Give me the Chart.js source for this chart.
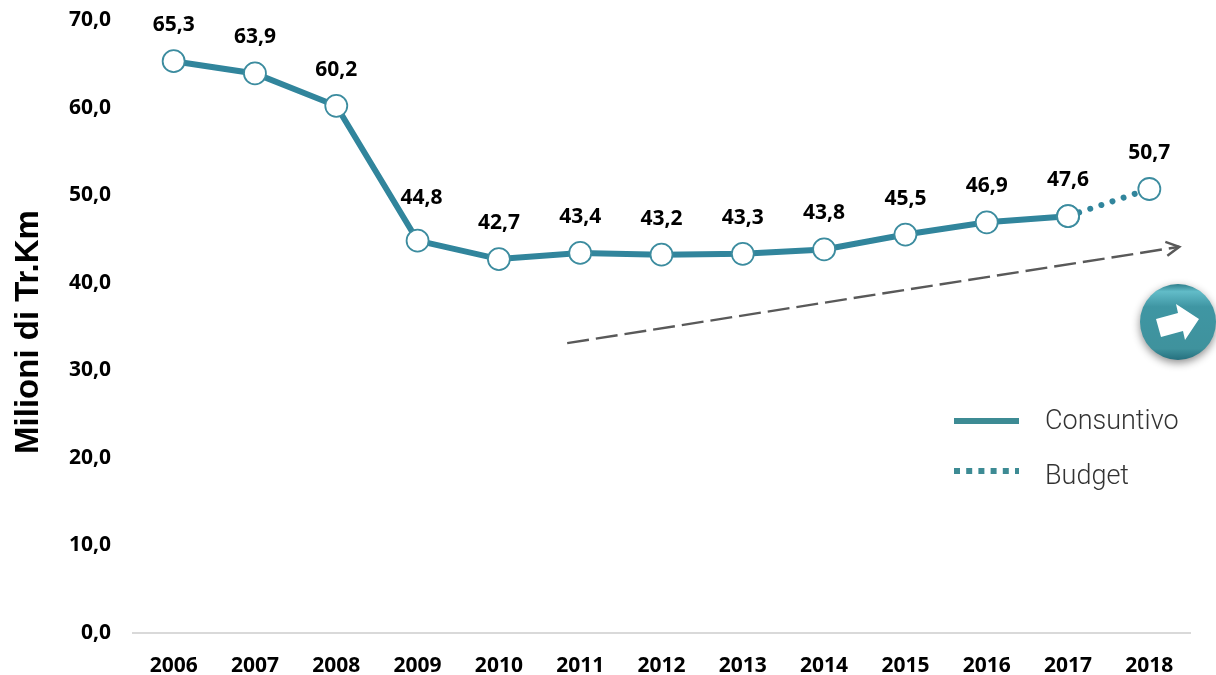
<!DOCTYPE html>
<html>
<head>
<meta charset="utf-8">
<script src="https://cdn.jsdelivr.net/npm/chart.js@4"></script>
<style>
html, body { margin: 0; padding: 0; background: #fff; }
#wrap { position: relative; width: 1216px; height: 675px; }
#chart { display: block; }
</style>
</head>
<body>
<div id="wrap"><canvas id="chart" width="1216" height="675"></canvas></div>
<script>
var years = ['2006','2007','2008','2009','2010','2011','2012','2013','2014','2015','2016','2017','2018'];
var consuntivo = [65.3,63.9,60.2,44.8,42.7,43.4,43.2,43.3,43.8,45.5,46.9,47.6,null];
var budget = [null,null,null,null,null,null,null,null,null,null,null,47.6,50.7];
var allValues = [65.3,63.9,60.2,44.8,42.7,43.4,43.2,43.3,43.8,45.5,46.9,47.6,50.7];
var trendFrom = 33.1;
var trendTo = 44.1;
var teal = '#31859c';
var legendTeal = '#3d8b94';
var labelFont = '"Open Sans"';
var plotTop = 20;

function fmt(v) { return v.toFixed(1).replace('.', ','); }

// value labels, legend, trend arrow and round button are drawn by hand after the datasets
var extras = {
    id: 'extras',
    // big point markers push the plot down, so pull the y scale back up to the top
    afterLayout: function (chart) {
        var y = chart.scales.y, area = chart.chartArea;
        y.top = plotTop;
        y.height = y.bottom - plotTop;
        y.configure();
        area.top = plotTop;
        area.height = area.bottom - plotTop;
    },
    afterDatasetsDraw: function (chart) {
        var ctx = chart.ctx, x = chart.scales.x, y = chart.scales.y;

        // dashed trend arrow
        var x0 = x.getPixelForValue(5) - 13, y0 = y.getPixelForValue(trendFrom);
        var x1 = x.getPixelForValue(12) + 30, y1 = y.getPixelForValue(trendTo);
        ctx.save();
        ctx.strokeStyle = '#595959';
        ctx.lineWidth = 2.4;
        ctx.setLineDash([22, 7]);
        ctx.beginPath();
        ctx.moveTo(x0, y0);
        ctx.lineTo(x1, y1);
        ctx.stroke();
        ctx.setLineDash([]);
        ctx.beginPath();
        ctx.moveTo(x1 - 14, y1 - 5);
        ctx.lineTo(x1, y1);
        ctx.lineTo(x1 - 12, y1 + 9);
        ctx.stroke();
        ctx.restore();

        // data labels
        ctx.save();
        ctx.font = 'bold 21px ' + labelFont;
        ctx.fillStyle = '#000';
        ctx.textAlign = 'center';
        ctx.textBaseline = 'middle';
        allValues.forEach(function (v, i) {
            // the 2009 label sits higher, clear of the falling line
            var dx = i === 3 ? 4 : 0, dy = i === 3 ? 43 : 36;
            ctx.fillText(fmt(v), x.getPixelForValue(i) + dx, y.getPixelForValue(v) - dy);
        });
        ctx.restore();

        // axis title
        ctx.save();
        ctx.translate(29, 332);
        ctx.rotate(-Math.PI / 2);
        ctx.font = 'bold 33px "Liberation Sans"';
        ctx.fillStyle = '#000';
        ctx.textAlign = 'center';
        ctx.textBaseline = 'middle';
        ctx.fillText('Milioni di Tr.Km', 0, 0);
        ctx.restore();

        // legend
        ctx.save();
        ctx.strokeStyle = legendTeal;
        ctx.lineWidth = 6;
        ctx.beginPath();
        ctx.moveTo(954, 421);
        ctx.lineTo(1019, 421);
        ctx.stroke();
        ctx.setLineDash([6, 6.2]);
        ctx.beginPath();
        ctx.moveTo(954, 471);
        ctx.lineTo(1019, 471);
        ctx.stroke();
        ctx.setLineDash([]);
        ctx.font = '300 27px Roboto';
        ctx.fillStyle = '#333';
        ctx.textBaseline = 'middle';
        ctx.fillText('Consuntivo', 1045, 422);
        ctx.fillText('Budget', 1045, 477);
        ctx.restore();

        // round button with white arrow
        ctx.save();
        ctx.shadowColor = 'rgba(0,0,0,0.45)';
        ctx.shadowBlur = 8;
        ctx.shadowOffsetY = 3;
        var g = ctx.createLinearGradient(0, 284, 0, 360);
        g.addColorStop(0, '#2f7f8c');
        g.addColorStop(0.1, '#62bcc8');
        g.addColorStop(0.3, '#3f96a3');
        g.addColorStop(0.85, '#3f929d');
        g.addColorStop(1, '#25707e');
        ctx.fillStyle = g;
        ctx.beginPath();
        ctx.arc(1178, 322, 38, 0, Math.PI * 2);
        ctx.fill();
        ctx.restore();
        ctx.save();
        ctx.translate(1178, 322);
        ctx.fillStyle = '#fff';
        ctx.beginPath();
        ctx.moveTo(-22, -3);
        ctx.lineTo(0, -9);
        ctx.lineTo(-2, -18);
        ctx.lineTo(21, -3);
        ctx.lineTo(7, 18);
        ctx.lineTo(5, 9);
        ctx.lineTo(-17, 15);
        ctx.closePath();
        ctx.fill();
        ctx.restore();
    }
};

new Chart(document.getElementById('chart').getContext('2d'), {
    type: 'line',
    data: {
        labels: years,
        datasets: [
            {
                label: 'Budget',
                data: budget,
                borderColor: teal,
                borderWidth: 6,
                borderDash: [0.01, 11.7],
                borderCapStyle: 'round',
                pointRadius: 11,
                pointBorderWidth: 1.8,
                pointBackgroundColor: '#fff',
                pointBorderColor: '#3c8c9f',
                tension: 0
            },
            {
                label: 'Consuntivo',
                data: consuntivo,
                borderColor: teal,
                borderWidth: 6,
                pointRadius: 11,
                pointBorderWidth: 1.8,
                pointBackgroundColor: '#fff',
                pointBorderColor: '#3c8c9f',
                tension: 0
            }
        ]
    },
    options: {
        responsive: false,
        animation: false,
        layout: { autoPadding: false, padding: { left: 0, right: 26, top: 20, bottom: 0 } },
        plugins: { legend: { display: false }, tooltip: { enabled: false } },
        scales: {
            x: {
                offset: true,
                afterFit: function (s) { s.height = 42; },
                grid: { display: false, drawTicks: false },
                border: { color: '#d9d9d9', width: 2 },
                ticks: { color: '#000', font: { family: labelFont, size: 21, weight: 'bold' }, padding: 20, maxRotation: 0, autoSkip: false }
            },
            y: {
                min: 0,
                max: 70,
                afterFit: function (s) { s.width = 133; },
                grid: { display: false, drawTicks: false },
                border: { display: false },
                ticks: {
                    stepSize: 10,
                    color: '#000',
                    padding: 22,
                    font: { family: labelFont, size: 21, weight: 'bold' },
                    callback: function (v) { return fmt(v); }
                }
            }
        }
    },
    plugins: [extras]
});
</script>
</body>
</html>
